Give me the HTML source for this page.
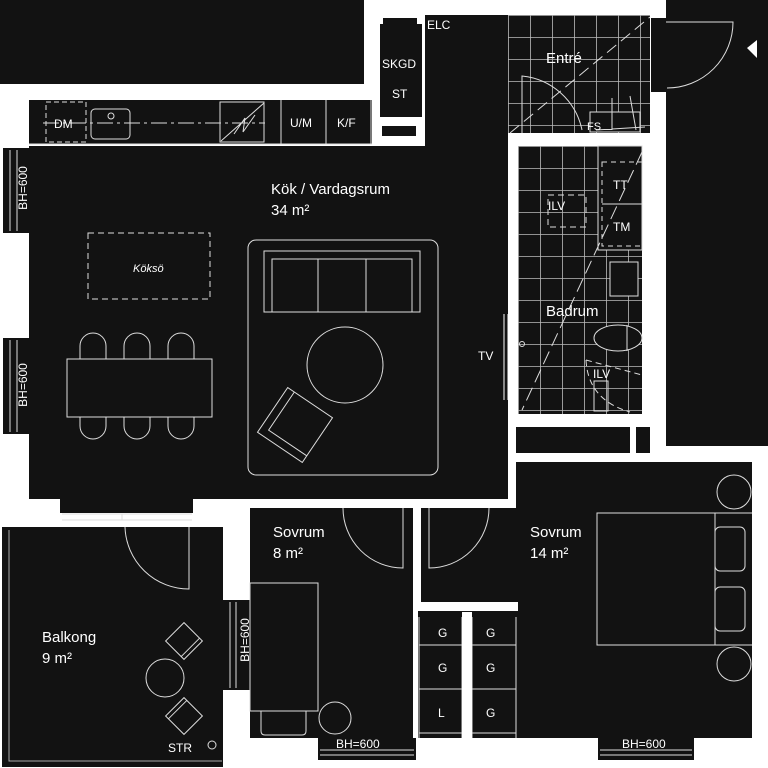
<!DOCTYPE html>
<html><head><meta charset="utf-8"><style>
html,body{margin:0;padding:0;background:#fff;}
svg{display:block;}
text{font-family:"Liberation Sans",sans-serif;fill:#fff;}
</style></head><body>
<svg width="768" height="768" viewBox="0 0 768 768" xmlns="http://www.w3.org/2000/svg">
<defs>
<pattern id="tile" x="508" y="15" width="22" height="22" patternUnits="userSpaceOnUse">
<rect width="22" height="22" fill="#121212"/>
<path d="M0 0.5H22M0.5 0V22" stroke="#bbb" stroke-width="0.8"/>
</pattern>
<pattern id="tile2" x="518" y="146" width="22" height="22" patternUnits="userSpaceOnUse">
<rect width="22" height="22" fill="#121212"/>
<path d="M0 0.5H22M0.5 0V22" stroke="#bbb" stroke-width="0.8"/>
</pattern>
</defs>
<rect width="768" height="768" fill="#fff"/>
<g fill="#121212">
<rect x="0" y="0" width="364" height="84"/>
<rect x="666" y="0" width="102" height="446"/>
<rect x="651" y="18" width="15" height="74"/>
<rect x="380" y="24" width="42" height="93"/>
<rect x="383" y="18" width="34" height="6"/>
<rect x="382" y="126" width="34" height="10"/>
<rect x="29" y="100" width="343" height="44"/>
<rect x="425" y="15" width="83" height="140"/>
<rect x="29" y="146" width="479" height="353"/>
<rect x="60" y="499" width="133" height="14"/>
<rect x="516" y="427" width="114" height="26"/>
<rect x="636" y="427" width="14" height="26"/>
<rect x="2" y="527" width="221" height="240"/>
<rect x="250" y="508" width="163" height="230"/>
<rect x="421" y="508" width="99" height="94"/>
<rect x="516" y="462" width="236" height="276"/>
<rect x="418" y="611" width="100" height="127"/>
<rect x="223" y="600" width="27" height="90"/>
<rect x="318" y="738" width="98" height="22"/>
<rect x="598" y="738" width="96" height="22"/>
<rect x="3" y="148" width="26" height="85"/>
<rect x="3" y="338" width="26" height="96"/>
</g>
<rect x="508" y="15" width="142" height="118" fill="url(#tile)"/>
<rect x="518" y="146" width="124" height="268" fill="url(#tile2)"/>
<g fill="none" stroke="#ddd" stroke-width="1">
<path d="M522 133V76A68 68 0 0 1 582 130"/>
<path d="M510 133L650 17" stroke-dasharray="12 6"/>
<rect x="590" y="112" width="50" height="20" fill="#121212"/>
<path d="M612 98V130M630 96L636 130M596 130L645 127"/>
<path d="M666 22H733A66 66 0 0 1 667 88"/>
<rect x="598" y="146" width="44" height="104" fill="#121212"/>
<rect x="602" y="162" width="40" height="84" stroke-dasharray="5 4"/>
<path d="M602 204H642"/>
<path d="M642 152L522 410" stroke-dasharray="14 6"/>
<rect x="548" y="195" width="38" height="32" stroke-dasharray="6 4"/>
<rect x="610" y="262" width="28" height="34" fill="#121212"/>
<ellipse cx="618" cy="338" rx="24" ry="13" fill="#121212"/>
<path d="M627 325V351"/>
<path d="M586 360L642 375M586 360Q588 400 630 412" stroke-dasharray="6 4"/>
<rect x="594" y="381" width="14" height="30"/>
<circle cx="522" cy="344" r="2.5"/>
<path d="M504 314V400M508 314V400" stroke="#fff"/>
<rect x="46" y="102" width="40" height="40" stroke-dasharray="5 3"/>
<rect x="91" y="109" width="39" height="30" rx="4"/>
<circle cx="111" cy="116" r="3"/>
<path d="M43 123H265" stroke-dasharray="16 4 3 4"/>
<rect x="220" y="102" width="44" height="40"/>
<path d="M221 141L264 103M234 134L245 118L243 132L255 115"/>
<path d="M281 100V144M326 100V144M371 100V144M29 144H372"/>
<rect x="88" y="233" width="122" height="66" stroke-dasharray="6 4"/>
<rect x="67" y="359" width="145" height="58"/>
<path d="M80 359V346A13 13 0 0 1 106 346V359M124 359V346A13 13 0 0 1 150 346V359M168 359V346A13 13 0 0 1 194 346V359"/>
<path d="M80 417V426A13 13 0 0 0 106 426V417M124 417V426A13 13 0 0 0 150 426V417M168 417V426A13 13 0 0 0 194 426V417"/>
<rect x="248" y="240" width="190" height="235" rx="8"/>
<rect x="264" y="251" width="156" height="61"/>
<path d="M272 312V259H412V312M318 259V312M366 259V312"/>
<circle cx="345" cy="365" r="38"/>
<g transform="rotate(34 295 425)">
<rect x="268" y="398" width="54" height="54"/>
<path d="M276 398V444H322"/>
</g>
<path d="M10 150V231M17 150V231M10 340V432M17 340V432"/>
<path d="M62 514H192M62 520H192M122 514V520"/>
<path d="M230 602V688M236 602V688"/>
<path d="M320 750H414M320 755H414M600 750H692M600 755H692"/>
<path d="M9 530V761H222" stroke="#aaa"/>
<path d="M125 527A64 64 0 0 0 189 589V527"/>
<g transform="rotate(45 184 641)"><rect x="171" y="628" width="26" height="26"/><path d="M193 628V654"/></g>
<circle cx="165" cy="678" r="19"/>
<g transform="rotate(45 184 716)"><rect x="171" y="703" width="26" height="26"/><path d="M175 729V703"/></g>
<circle cx="212" cy="745" r="4"/>
<path d="M343 508A60 60 0 0 0 403 568V508"/>
<rect x="250" y="583" width="68" height="128"/>
<path d="M261 711V731Q261 735 265 735H302Q306 735 306 731V711"/>
<circle cx="335" cy="718" r="16"/>
<path d="M489 508A60 60 0 0 1 429 568V508"/>
<rect x="597" y="513" width="118" height="132"/>
<path d="M715 513H752M715 645H752"/>
<rect x="715" y="527" width="30" height="44" rx="5"/>
<rect x="715" y="587" width="30" height="44" rx="5"/>
<circle cx="734" cy="492" r="17"/>
<circle cx="734" cy="664" r="17"/>
<path d="M419 617V738M462 617V738M472 617V738M516 617V738M419 645H462M472 645H516M419 689H462M472 689H516M419 733H462M472 733H516"/>
</g>
<rect x="462" y="612" width="10" height="128" fill="#fff"/>
<rect x="413" y="500" width="8" height="111" fill="#fff"/>
<rect x="413" y="602" width="105" height="9" fill="#fff"/>
<polygon points="747,48 757,40 757,58" fill="#fff"/>
<g font-size="12">
<text x="427" y="29">ELC</text>
<text x="382" y="68">SKGD</text>
<text x="392" y="98">ST</text>
<text x="54" y="128">DM</text>
<text x="290" y="127">U/M</text>
<text x="337" y="127">K/F</text>
<text x="587" y="130" font-size="11">FS</text>
<text x="548" y="210">ILV</text>
<text x="613" y="189">TT</text>
<text x="613" y="231">TM</text>
<text x="593" y="378">ILV</text>
<text x="478" y="360">TV</text>
<text x="168" y="752">STR</text>
<text x="438" y="637">G</text><text x="486" y="637">G</text>
<text x="438" y="672">G</text><text x="486" y="672">G</text>
<text x="438" y="717">L</text><text x="486" y="717">G</text>
<text x="336" y="748">BH=600</text>
<text x="622" y="748">BH=600</text>
<text transform="translate(27 188) rotate(-90)" text-anchor="middle">BH=600</text>
<text transform="translate(27 385) rotate(-90)" text-anchor="middle">BH=600</text>
<text transform="translate(249 640) rotate(-90)" text-anchor="middle">BH=600</text>
</g>
<text x="133" y="272" font-size="11" font-style="italic">Köksö</text>
<g font-size="15">
<text x="271" y="194">Kök / Vardagsrum</text>
<text x="271" y="215">34 m²</text>
<text x="546" y="63">Entré</text>
<text x="546" y="316">Badrum</text>
<text x="273" y="537">Sovrum</text>
<text x="273" y="558">8 m²</text>
<text x="530" y="537">Sovrum</text>
<text x="530" y="558">14 m²</text>
<text x="42" y="642">Balkong</text>
<text x="42" y="663">9 m²</text>
</g>
</svg>
</body></html>
